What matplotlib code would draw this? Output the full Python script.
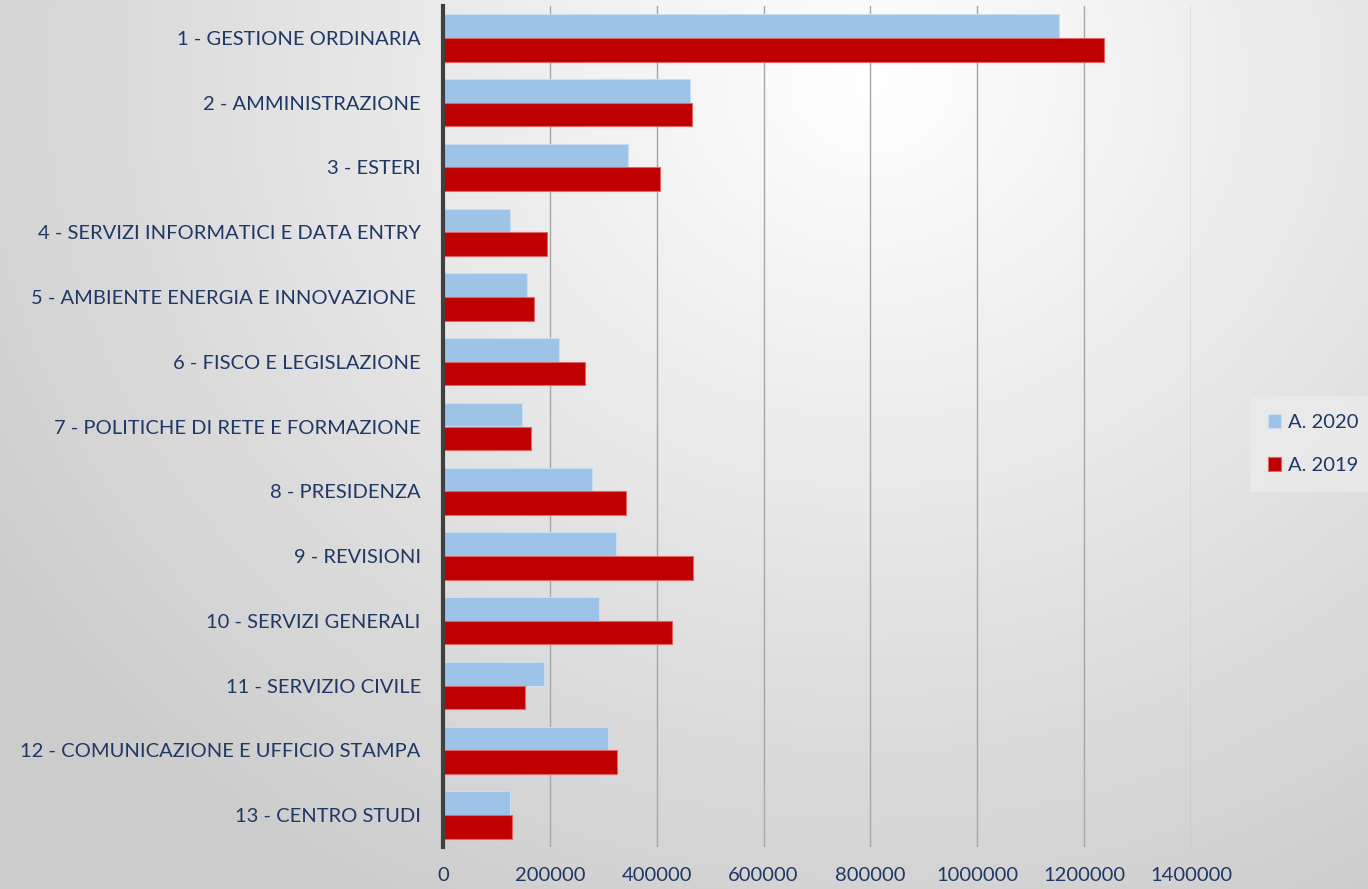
import numpy as np
import matplotlib.pyplot as plt

categorie = ['1 - GESTIONE ORDINARIA', '2 - AMMINISTRAZIONE', '3 - ESTERI',
             '4 - SERVIZI INFORMATICI E DATA ENTRY', '5 - AMBIENTE ENERGIA E INNOVAZIONE ',
             '6 - FISCO E LEGISLAZIONE', '7 - POLITICHE DI RETE E FORMAZIONE',
             '8 - PRESIDENZA', '9 - REVISIONI', '10 - SERVIZI GENERALI',
             '11 - SERVIZIO CIVILE', '12 - COMUNICAZIONE E UFFICIO STAMPA',
             '13 - CENTRO STUDI']
a2020 = [1152500, 463200, 345400, 125300, 157100, 217500, 148300,
         278000, 322900, 292300, 188300, 309100, 125300]
a2019 = [1236700, 466900, 405800, 194500, 170200, 265000, 164000,
         342800, 468800, 429500, 152800, 324800, 129000]
xticks = [0, 200000, 400000, 600000, 800000, 1000000, 1200000, 1400000]

blu = '#9DC3E6'
rosso = '#C00000'
testo = '#1F3864'
plt.rcParams['font.family'] = ['Lato', 'DejaVu Sans']

fig = plt.figure(figsize=(13.68, 8.89), dpi=100)

# sfondo a gradiente radiale
bg = fig.add_axes([0, 0, 1, 1])
W, H = 1368, 889
xx, yy = np.meshgrid(np.arange(W), np.arange(H))
d = np.sqrt(((xx - 870) / 1000.0) ** 2 + ((yy - 80) / 900.0) ** 2)
g = np.clip(1.0 - 0.19 * d, 0.80, 1.0)
bg.imshow(np.dstack([g, g, g]), aspect='auto', extent=[0, 1, 0, 1])
bg.axis('off')

ax = fig.add_axes([443 / W, 1 - 847.4 / H, (1191 - 443) / W, (847.4 - 5.6) / H])
ax.patch.set_alpha(0)

n = len(categorie)
y = np.arange(n)
h = 0.365
ax.barh(y - h / 2, a2020, height=h, color=blu, edgecolor='#C9DEF2', linewidth=0.8,
        label='A. 2020', zorder=3)
ax.barh(y + h / 2, a2019, height=h, color=rosso, edgecolor='#E06666', linewidth=0.8,
        label='A. 2019', zorder=3)

ax.set_ylim(n - 0.5, -0.5)
ax.set_xlim(0, 1400000)
ax.set_yticks(y)
ax.set_yticklabels(categorie, fontsize=14.5, color=testo)
ax.set_xticks(xticks)
ax.set_xticklabels([str(v) for v in xticks], fontsize=14.5, color=testo)
ax.tick_params(axis='y', length=0, pad=16)
ax.tick_params(axis='x', length=0, pad=14)
ax.grid(axis='x', color='#A6A6A6', linewidth=1, zorder=0)
for s in ['top', 'right', 'bottom']:
    ax.spines[s].set_visible(False)
ax.spines['left'].set_color('#404040')
ax.spines['left'].set_linewidth(3)
ax.spines['left'].set_zorder(4)

leg = ax.legend(loc='center left', bbox_to_anchor=(1250 / W, 1 - 444 / H),
                bbox_transform=fig.transFigure, frameon=True, fontsize=14.5,
                handlelength=0.65, handleheight=0.65, handletextpad=0.35,
                labelspacing=1.3, borderpad=0.9, borderaxespad=0, fancybox=False)
leg.get_frame().set_facecolor('#EBEBEB')
leg.get_frame().set_edgecolor('none')
for t in leg.get_texts():
    t.set_color(testo)

fig.savefig('out.png', dpi=100)
